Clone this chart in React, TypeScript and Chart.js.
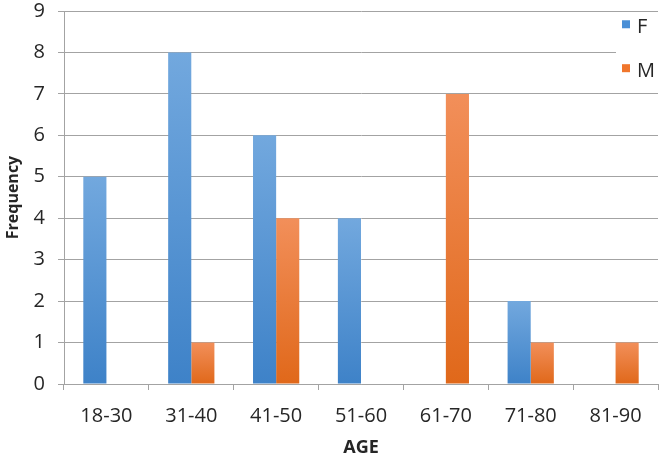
import React, { useEffect, useRef } from "react";
import { Chart, registerables } from "chart.js";

Chart.register(...registerables);

const categories = ["18-30", "31-40", "41-50", "51-60", "61-70", "71-80", "81-90"];
const femaleValues = [5, 8, 6, 4, 0, 2, 0];
const maleValues = [0, 1, 4, 0, 7, 1, 1];
const yTicks = [0, 1, 2, 3, 4, 5, 6, 7, 8, 9];
const seriesNames = ["F", "M"];

const FONT = "'Open Sans', 'DejaVu Sans', sans-serif";
const GRID = "#a3a3a3";
const TEXT = "#262626";

function gradientFill(top: string, bottom: string, fallback: string) {
  return (ctx: any) => {
    const chart = ctx.chart;
    const y = chart.scales && chart.scales.y;
    if (!chart.chartArea || !y || ctx.raw == null) return fallback;
    const yTop = y.getPixelForValue(ctx.raw);
    const yBot = y.getPixelForValue(0);
    if (!isFinite(yTop) || !isFinite(yBot) || yTop === yBot) return fallback;
    const g = chart.ctx.createLinearGradient(0, yTop, 0, yBot);
    g.addColorStop(0, top);
    g.addColorStop(1, bottom);
    return g;
  };
}

const legendPlugin = {
  id: "insideLegend",
  afterDraw(chart: any) {
    const c = chart.ctx;
    const area = chart.chartArea;
    const y = chart.scales.y;
    const x0 = 616;
    const yA = y.getPixelForValue(8.75);
    const yB = y.getPixelForValue(7.25);
    c.save();
    c.fillStyle = "#ffffff";
    c.fillRect(x0, yA, area.right + 4 - x0, yB - yA);
    const items = [
      { label: seriesNames[0], color: "#4a8fd6", cy: y.getPixelForValue(8.68) },
      { label: seriesNames[1], color: "#f0762c", cy: y.getPixelForValue(7.62) },
    ];
    c.font = `20px ${FONT}`;
    c.textBaseline = "middle";
    c.textAlign = "left";
    for (const it of items) {
      c.fillStyle = it.color;
      c.fillRect(622, it.cy - 4, 8, 8);
      c.fillStyle = TEXT;
      c.fillText(it.label, 637, it.cy + 3);
    }
    c.restore();
  },
};

export default function App() {
  const ref = useRef<HTMLCanvasElement>(null);
  useEffect(() => {
    if (!ref.current) return;
    const chart = new Chart(ref.current, {
      type: "bar",
      data: {
        labels: categories,
        datasets: [
          {
            label: seriesNames[0],
            data: femaleValues,
            backgroundColor: gradientFill("#72a8de", "#3e82c8", "#4a8fd6"),
            borderWidth: 0,
            categoryPercentage: 0.545,
            barPercentage: 1,
          },
          {
            label: seriesNames[1],
            data: maleValues,
            backgroundColor: gradientFill("#f28f5a", "#e0681a", "#f0762c"),
            borderWidth: 0,
            categoryPercentage: 0.545,
            barPercentage: 1,
          },
        ],
      },
      options: {
        responsive: false,
        animation: false,
        layout: { padding: { top: 11, right: 5, left: 0, bottom: 0 } },
        plugins: {
          legend: { display: false },
          tooltip: { enabled: false },
        },
        scales: {
          x: {
            afterFit: (s: any) => {
              s.height = 76;
              s.paddingLeft = 0;
              s.paddingRight = 0;
            },
            grid: {
              offset: true,
              drawOnChartArea: false,
              drawTicks: true,
              tickLength: 6,
              color: GRID,
            },
            border: { display: true, color: GRID, width: 1 },
            ticks: {
              color: TEXT,
              font: { family: FONT, size: 20 },
              padding: 14,
              maxRotation: 0,
            },
            title: {
              display: true,
              text: "AGE",
              color: TEXT,
              font: { family: FONT, size: 18, weight: "bold" },
              padding: { top: 0, bottom: 1 },
            },
          },
          y: {
            min: 0,
            max: 9,
            afterFit: (s: any) => {
              s.width = 64;
              s.paddingTop = 0;
              s.paddingBottom = 0;
            },
            afterBuildTicks: (s: any) => {
              s.ticks = yTicks.map((v) => ({ value: v }));
            },
            grid: {
              color: GRID,
              lineWidth: 1,
              tickLength: 6,
              drawTicks: true,
            },
            border: { display: true, color: GRID, width: 1 },
            ticks: {
              color: TEXT,
              font: { family: FONT, size: 20 },
              padding: 13,
              stepSize: 1,
            },
            title: {
              display: true,
              text: "Frequency",
              color: TEXT,
              font: { family: FONT, size: 16, weight: "bold" },
              padding: { top: 4, bottom: 0 },
            },
          },
        },
      },
      plugins: [legendPlugin],
    });
    return () => chart.destroy();
  }, []);
  return (
    <div style={{ position: "absolute", left: 0, top: 0, width: 663, height: 460, background: "#fff" }}>
      <canvas ref={ref} width={663} height={460} style={{ display: "block" }} />
    </div>
  );
}
